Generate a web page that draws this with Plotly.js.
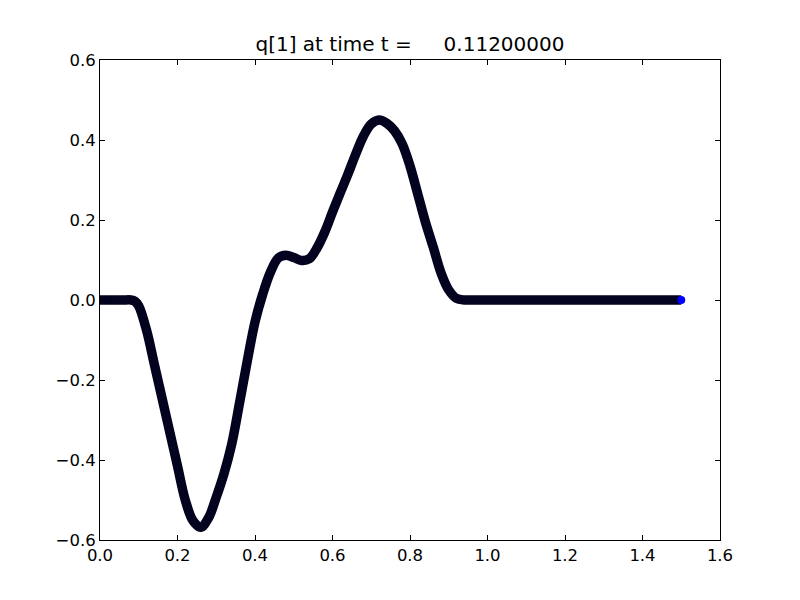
<!DOCTYPE html>
<html>
<head>
<meta charset="utf-8">
<script src="https://cdn.plot.ly/plotly-3.0.1.min.js"></script>
<style>html,body{margin:0;padding:0;background:#fff;}#chart{width:800px;height:600px;}</style>
</head>
<body>
<div id="chart"></div>
<script>
// Values
var xs = [0, 0.02, 0.04, 0.06, 0.08, 0.09, 0.10, 0.12, 0.14, 0.16, 0.18, 0.20, 0.22, 0.24, 0.26, 0.28,
          0.30, 0.32, 0.34, 0.36, 0.38, 0.40, 0.42, 0.44, 0.46, 0.48, 0.50, 0.52, 0.54, 0.56, 0.58,
          0.60, 0.62, 0.64, 0.66, 0.68, 0.70, 0.72, 0.74, 0.76, 0.78, 0.80, 0.82, 0.84, 0.86, 0.88,
          0.90, 0.92, 0.94, 0.96, 0.98, 1.0, 1.1, 1.2, 1.3, 1.4, 1.5];
var qs = [0, 0, 0, 0, 0, -0.003, -0.015, -0.075, -0.16, -0.245, -0.33, -0.415, -0.5, -0.552, -0.568, -0.545,
          -0.493, -0.434, -0.36, -0.258, -0.153, -0.055, 0.015, 0.07, 0.105, 0.112, 0.106, 0.099, 0.103, 0.13, 0.17,
          0.22, 0.268, 0.315, 0.365, 0.41, 0.44, 0.45, 0.442, 0.423, 0.39, 0.335, 0.265, 0.194, 0.132, 0.068,
          0.025, 0.004, 0, 0, 0, 0, 0, 0, 0, 0, 0];
var titleText = "q[1] at time t =     0.11200000";
var xTicks = [0, 0.2, 0.4, 0.6, 0.8, 1.0, 1.2, 1.4, 1.6];
var yTicks = [-0.6, -0.4, -0.2, 0.0, 0.2, 0.4, 0.6];

var traces = [
  {
    x: xs, y: qs, type: 'scatter', mode: 'lines',
    line: {color: '#03031f', width: 9.5, shape: 'spline', smoothing: 1.0},
    hoverinfo: 'skip', showlegend: false
  },
  {
    x: [xs[xs.length - 1]], y: [qs[qs.length - 1]], type: 'scatter', mode: 'markers',
    marker: {color: '#0000ff', size: 8, line: {width: 0}},
    hoverinfo: 'skip', showlegend: false, cliponaxis: false
  }
];

var axisCommon = {
  showline: true, linecolor: '#000', linewidth: 1, mirror: 'ticks',
  ticks: 'inside', ticklen: 5, tickcolor: '#000', tickwidth: 1,
  showgrid: false, zeroline: false, tickformat: '.1f', autorange: false,
  tickfont: {family: 'DejaVu Sans', size: 16.5, color: '#000'}
};

var layout = {
  width: 800, height: 600,
  margin: {l: 100, r: 80, t: 60, b: 60, pad: 0},
  paper_bgcolor: '#fff', plot_bgcolor: '#fff',
  font: {family: 'DejaVu Sans', size: 16.5, color: '#000'},
  title: {text: titleText, font: {family: 'DejaVu Sans', size: 20, color: '#000'},
          xref: 'paper', x: 0.5, xanchor: 'center', yref: 'container', y: 0.927, yanchor: 'middle'},
  xaxis: Object.assign({}, axisCommon, {range: [0, 1.6], tickvals: xTicks}),
  yaxis: Object.assign({}, axisCommon, {range: [-0.6, 0.6], tickvals: yTicks}),
  showlegend: false
};

Plotly.newPlot('chart', traces, layout, {displayModeBar: false, staticPlot: true});
</script>
</body>
</html>
